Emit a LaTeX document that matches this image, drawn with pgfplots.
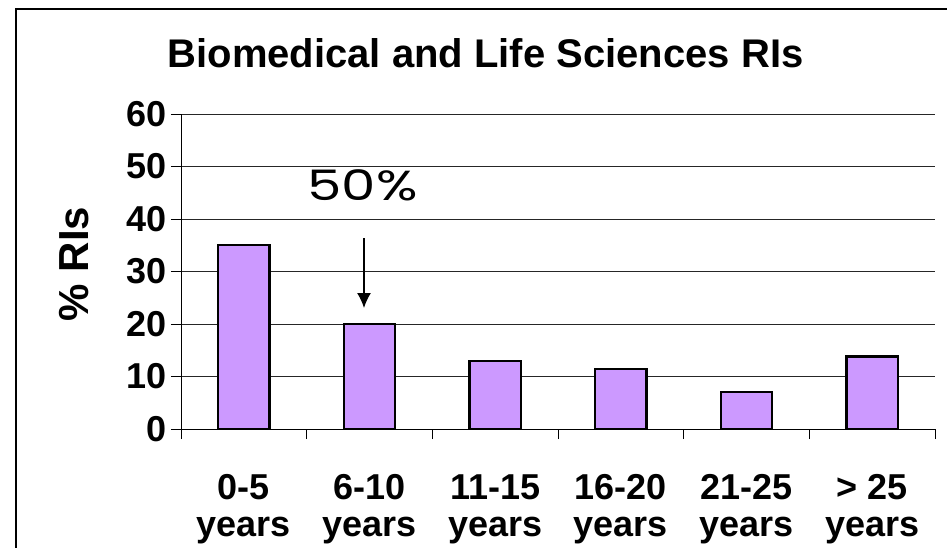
\documentclass[border=0pt]{standalone}
\usepackage{fontspec}
\setmainfont{Liberation Sans}
\newfontfamily\geofont{Poppins}
\usepackage{pgfplots}
\pgfplotsset{compat=1.18}
\usetikzlibrary{arrows.meta}
\definecolor{barfill}{RGB}{204,153,255}
\begin{document}
\begin{tikzpicture}[x=1pt,y=1pt]
\useasboundingbox (0,0) rectangle (947,547);
\draw[line width=1.4pt] (16,-5) -- (16,538) -- (952,538);
\begin{axis}[
  at={(181pt,118pt)}, anchor=south west,
  scale only axis, width=754pt, height=315pt,
  xmin=0, xmax=6, ymin=0, ymax=60,
  axis x line=bottom, axis y line=left,
  axis line style={-, line width=1pt, black},
  ytick={0,10,...,60},
  ymajorgrids, grid style={line width=1pt, black!85},
  xtick={0,1,...,6},
  x tick label as interval,
  xticklabels={{\strut 0-5\\\strut years},{\strut 6-10\\\strut years},{\strut 11-15\\\strut years},{\strut 16-20\\\strut years},{\strut 21-25\\\strut years},{\strut > 25\\\strut years}},
  tick align=outside,
  major tick length=10pt,
  tick style={line width=1pt, black},
  /pgf/number format/assume math mode=true,
  tick label style={font=\bfseries\fontsize{36}{37}\selectfont},
  x tick label style={align=center, anchor=north, yshift=-34pt, inner sep=0pt},
  y tick label style={xshift=-1pt},
  clip=false,
]
\addplot[ybar, bar width=0.41, fill=barfill, draw=black, line width=2.4pt]
  coordinates {(0.5,35) (1.5,20) (2.5,13) (3.5,11.4) (4.5,7.1) (5.5,13.8)};
\end{axis}
\node[anchor=base, font=\bfseries\fontsize{40}{41}\selectfont] at (485.5,479) {Biomedical and Life Sciences RIs};
\node[rotate=90, font=\bfseries\fontsize{42}{44}\selectfont] at (74,283) {\% RIs};
\node[anchor=base, inner sep=0pt, font=\geofont\fontsize{42}{44}\selectfont] at (362.5,346) {\scalebox{1.3}[1]{50\%}};
\draw[line width=1.4pt, -{Latex[length=15pt,width=14pt]}] (364,309) -- (364,239);
\end{tikzpicture}
\end{document}
